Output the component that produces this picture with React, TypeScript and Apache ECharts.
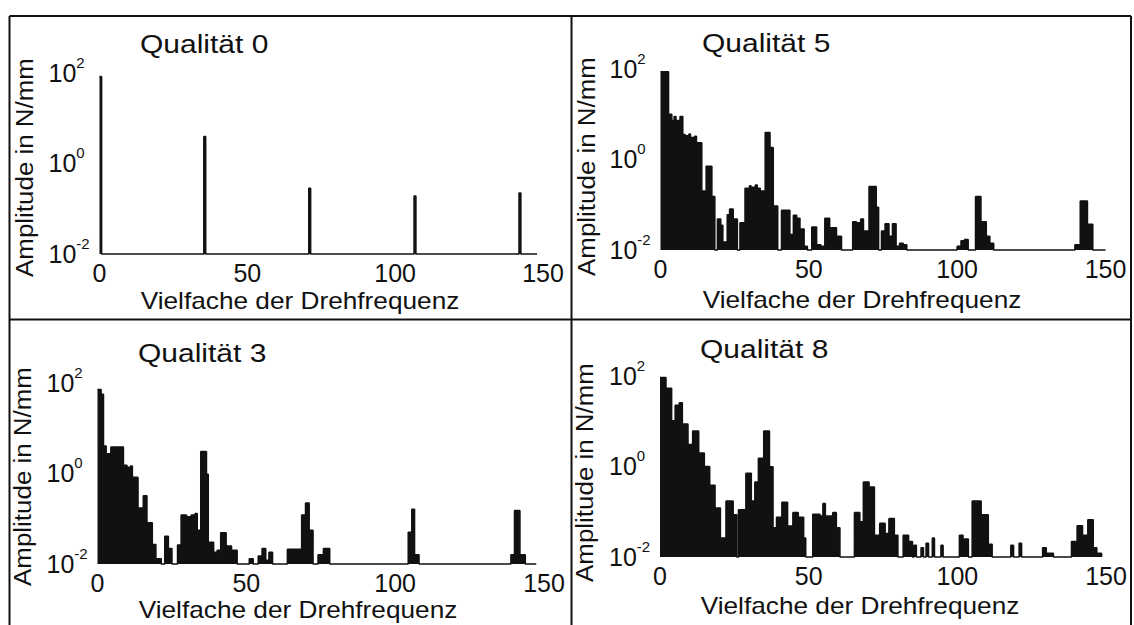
import React, { useEffect, useRef } from 'react';
import * as echarts from 'echarts';

// ---------- data ----------
const panelTitles = ['Qualität 0', 'Qualität 5', 'Qualität 3', 'Qualität 8'];
const xAxisTitle = 'Vielfache der Drehfrequenz';
const yAxisTitle = 'Amplitude in N/mm';
const xTickValues = [0, 50, 100, 150];
const yTickExponents = [-2, 0, 2];

// [order (start of step), amplitude in N/mm]; each value holds until the next order
const spectrumQ0: [number, number][] = [
  [0, 81], [0.7, 0.01], [35.3, 3.9], [35.9, 0.01], [70.8, 0.28], [71.4, 0.01],
  [106.4, 0.19], [107.0, 0.01], [141.9, 0.22], [142.5, 0.01], [148, 0.01],
];

const spectrumQ5: [number, number][] = [
  [0, 85], [2.7, 9.8], [3.8, 7.1], [4.6, 8.7], [5.2, 7.1], [6.6, 8.7], [7.5, 3.5],
  [8.3, 3.3], [9.6, 3.6], [10.1, 3.0], [11.5, 3.2], [12.1, 2.3], [13.9, 0.2],
  [15.4, 0.7], [17.3, 0.15], [18.3, 0.01], [19.2, 0.048], [20.3, 0.035], [21.0, 0.015],
  [22.5, 0.06], [23.3, 0.08], [24.5, 0.048], [25.9, 0.01], [26.8, 0.04], [28.5, 0.23],
  [30.0, 0.26], [30.5, 0.24], [32.0, 0.27], [32.6, 0.23], [33.6, 0.2], [35.3, 3.9],
  [36.9, 1.8], [38.0, 0.093], [39.5, 0.01], [40.8, 0.075], [43.6, 0.022], [44.8, 0.058],
  [45.9, 0.05], [47.0, 0.029], [48.4, 0.012], [49.5, 0.01], [51.0, 0.032], [52.6, 0.013],
  [54.0, 0.012], [55.4, 0.05], [57.0, 0.031], [59.3, 0.02], [61.0, 0.01], [64.8, 0.042],
  [66.0, 0.04], [67.5, 0.048], [68.4, 0.026], [70.3, 0.25], [72.7, 0.087], [73.5, 0.01],
  [74.5, 0.026], [75.7, 0.038], [77.0, 0.02], [78.2, 0.038], [79.4, 0.012], [80.6, 0.014],
  [81.8, 0.013], [83.0, 0.01], [100.0, 0.012], [101.3, 0.016], [102.5, 0.017],
  [103.7, 0.01], [106.2, 0.15], [108.0, 0.042], [109.8, 0.02], [111.0, 0.014],
  [112.3, 0.01], [139.7, 0.013], [141.5, 0.12], [143.9, 0.037], [145.7, 0.01], [150, 0.01],
];

const spectrumQ3: [number, number][] = [
  [0, 70], [1.2, 55], [2.0, 4.0], [2.9, 2.7], [4.5, 3.8], [8.7, 1.5], [9.9, 1.35],
  [11.1, 1.45], [11.7, 0.81], [13.6, 0.17], [15.4, 0.32], [16.6, 0.081], [18.4, 0.027],
  [19.6, 0.013], [21.4, 0.01], [22.6, 0.041], [23.8, 0.022], [25.0, 0.01], [26.9, 0.026],
  [28.1, 0.12], [29.9, 0.11], [31.5, 0.12], [32.8, 0.13], [33.5, 0.055], [34.7, 3.0],
  [36.6, 0.95], [37.2, 0.03], [39.0, 0.018], [40.2, 0.02], [41.4, 0.049], [43.2, 0.025],
  [45.0, 0.02], [46.9, 0.01], [51.0, 0.013], [52.3, 0.01], [54.0, 0.015], [55.3, 0.022],
  [56.5, 0.012], [57.6, 0.018], [58.8, 0.01], [63.8, 0.021], [68.6, 0.12], [69.9, 0.22],
  [71.1, 0.055], [72.4, 0.01], [74.1, 0.016], [75.9, 0.022], [78.0, 0.01], [104.4, 0.05],
  [105.6, 0.16], [106.5, 0.016], [108.0, 0.01], [138.9, 0.016], [140.1, 0.15],
  [141.9, 0.016], [143.7, 0.01], [147.4, 0.01],
];

const spectrumQ8: [number, number][] = [
  [0, 90], [2.0, 52], [3.9, 10], [5.1, 22], [6.5, 25], [7.5, 8.5], [9.4, 3.0], [11.0, 6.0],
  [13.0, 1.95], [14.9, 0.98], [16.7, 0.38], [18.5, 0.12], [20.3, 0.026], [22.2, 0.17],
  [24.6, 0.085], [25.8, 0.01], [26.4, 0.11], [28.9, 0.7], [30.7, 0.17], [31.9, 0.45],
  [33.1, 1.5], [34.9, 6.0], [36.8, 0.97], [38.0, 0.044], [39.2, 0.075], [41.0, 0.16],
  [42.9, 0.048], [44.7, 0.095], [46.5, 0.075], [48.3, 0.026], [49.0, 0.01], [51.4, 0.087],
  [53.8, 0.08], [54.8, 0.15], [55.6, 0.08], [58.1, 0.095], [59.3, 0.044], [60.5, 0.01],
  [65.4, 0.095], [67.2, 0.06], [68.4, 0.45], [70.3, 0.35], [72.1, 0.03], [73.9, 0.055],
  [75.7, 0.033], [77.0, 0.07], [78.8, 0.03], [80.0, 0.01], [81.8, 0.03], [83.6, 0.022],
  [84.9, 0.01], [85.4, 0.018], [86.2, 0.01], [87.8, 0.016], [88.6, 0.01], [89.5, 0.02],
  [90.3, 0.01], [91.6, 0.026], [92.3, 0.01], [94.5, 0.018], [95.2, 0.01], [100.7, 0.03],
  [101.9, 0.025], [103.7, 0.01], [105.0, 0.17], [108.0, 0.085], [110.4, 0.019],
  [111.7, 0.01], [118.0, 0.018], [118.9, 0.01], [120.8, 0.02], [121.6, 0.01],
  [128.7, 0.016], [129.9, 0.012], [132.3, 0.01], [138.4, 0.022], [140.3, 0.049],
  [142.1, 0.03], [143.9, 0.066], [145.7, 0.016], [146.9, 0.012], [148.5, 0.01],
];

const spectra = [spectrumQ0, spectrumQ5, spectrumQ3, spectrumQ8];

// ---------- layout ----------
const FONT = '"Liberation Sans", Arial, Helvetica, sans-serif';
const INK = '#111111';
const PLOT_H = 181.5;
// x0: pixel of order 0, x1: pixel of order 150, base: pixel of 10^-2, dx/dy: text offset
const panels = [
  { x0: 99.5, x1: 543, base: 254, dx: 0, dy: 0 },
  { x0: 660.5, x1: 1105.5, base: 250, dx: 562, dy: -1 },
  { x0: 97.5, x1: 544, base: 564, dx: -2, dy: 309 },
  { x0: 660, x1: 1106, base: 557, dx: 560, dy: 305 },
];

function txt(text: string, size: number, extra: any) {
  return {
    type: 'text',
    silent: true,
    ...extra,
    style: {
      text, fontSize: size, fontFamily: FONT, fontWeight: 'normal', fill: INK,
      textAlign: extra.align || 'left', textVerticalAlign: 'middle',
    },
  };
}

function buildOption() {
  const grid: any[] = [];
  const xAxis: any[] = [];
  const yAxis: any[] = [];
  const series: any[] = [];
  const graphic: any[] = [];

  panels.forEach((p, i) => {
    grid.push({ left: p.x0, top: p.base - PLOT_H, width: p.x1 - p.x0, height: PLOT_H });
    xAxis.push({
      type: 'value', gridIndex: i, min: xTickValues[0], max: xTickValues[xTickValues.length - 1],
      interval: xTickValues[1] - xTickValues[0],
      axisLine: { show: false }, axisTick: { show: false }, splitLine: { show: false },
      axisLabel: { fontSize: 25, color: INK, fontFamily: FONT, margin: 6 },
    });
    yAxis.push({
      type: 'log', gridIndex: i, logBase: 10, min: 0.01, max: 100,
      axisLine: { show: false }, axisTick: { show: false }, splitLine: { show: false },
      axisLabel: {
        align: 'left', margin: 51, fontSize: 24, fontFamily: FONT, color: INK,
        formatter: (v: number) => {
          const e = Math.round(Math.log10(v));
          return yTickExponents.includes(e) ? `{b|10}{s|${e}}` : '';
        },
        rich: {
          b: { fontSize: 25, lineHeight: 36, fontFamily: FONT, color: INK },
          s: { fontSize: 15, lineHeight: 15, verticalAlign: 'top', fontFamily: FONT, color: INK },
        },
      },
    });
    series.push({
      type: 'line', xAxisIndex: i, yAxisIndex: i, data: spectra[i], step: 'end',
      symbol: 'none', clip: false, silent: true,
      lineStyle: { color: INK, width: 1.6 },
      areaStyle: { color: INK, opacity: 1, origin: 'start' },
    });
    graphic.push(txt(panelTitles[i], 25, { x: 140 + p.dx, y: 44 + p.dy, scaleX: 1.2 }));
    graphic.push(txt(xAxisTitle, 23, { x: 300 + p.dx, y: 301 + p.dy, scaleX: 1.14, align: 'center' }));
    graphic.push(
      txt(yAxisTitle, 24, { x: 24.5 + p.dx, y: 167.5 + p.dy, rotation: Math.PI / 2, scaleX: 1.08, align: 'center' })
    );
  });

  const border = (x1: number, y1: number, x2: number, y2: number) => ({
    type: 'line', shape: { x1, y1, x2, y2 }, style: { stroke: INK, lineWidth: 2 }, silent: true,
  });
  graphic.push(border(9.5, 16, 1131, 16));
  graphic.push(border(9.5, 16, 9.5, 625));
  graphic.push(border(1131, 16, 1131, 625));
  graphic.push(border(571.5, 16, 571.5, 625));
  graphic.push(border(9.5, 319.5, 1131, 319.5));

  return { animation: false, backgroundColor: '#ffffff', grid, xAxis, yAxis, series, graphic };
}

export default function App() {
  const ref = useRef<HTMLDivElement>(null);
  useEffect(() => {
    if (!ref.current) return;
    const chart = echarts.init(ref.current, null, { renderer: 'svg' });
    chart.setOption(buildOption() as any);
    return () => chart.dispose();
  }, []);
  return (
    <div
      ref={ref}
      style={{ position: 'absolute', left: 0, top: 0, width: 1134, height: 625, background: '#fff' }}
    />
  );
}
